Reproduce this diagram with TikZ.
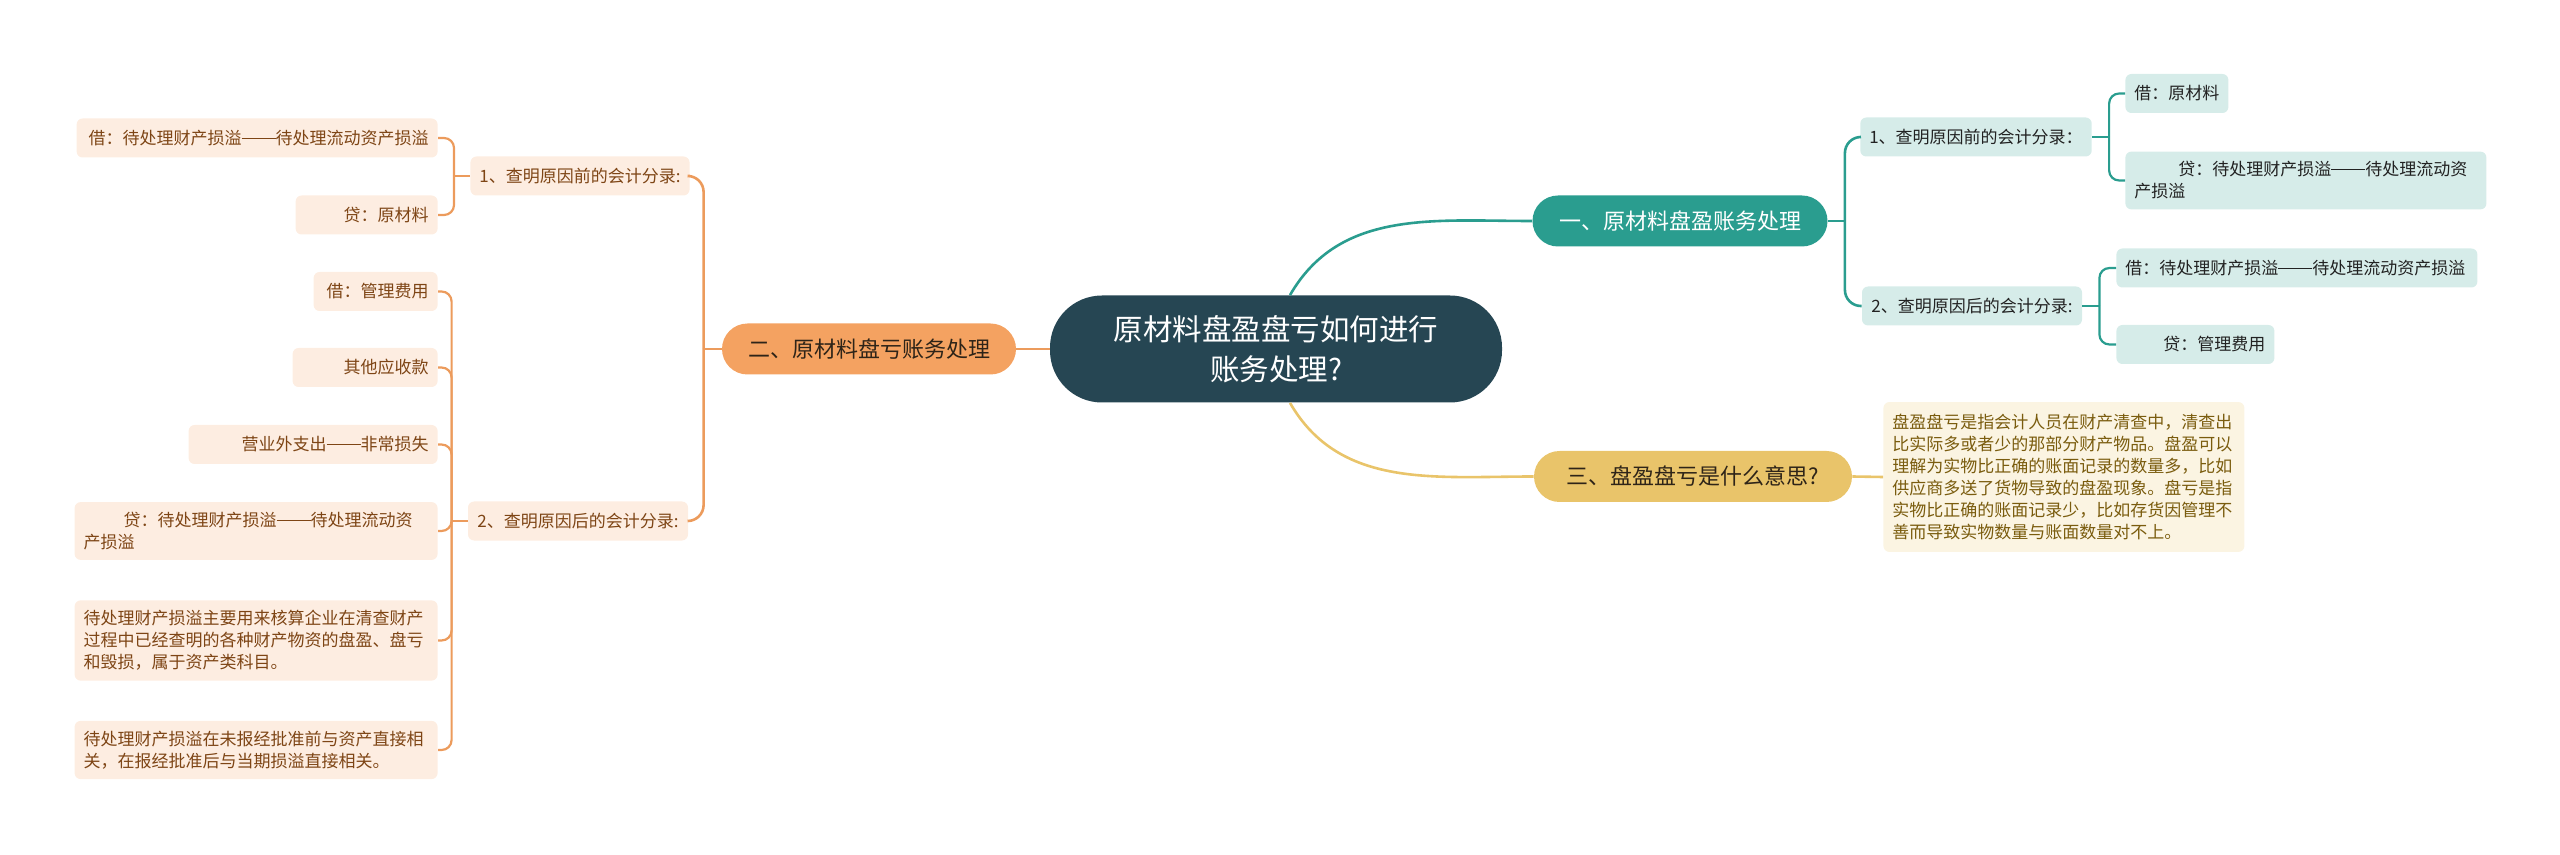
\documentclass[tikz,border=0pt]{standalone}
\usepackage{fontspec}
\usepackage{tikz}
\usetikzlibrary{calc}
\newfontfamily\zhfont{Noto Sans CJK SC}
\definecolor{rootSlate}{HTML}{264653}
\definecolor{deepTeal}{HTML}{2A9D8F}
\definecolor{softOrange}{HTML}{F4A261}
\definecolor{lineOrange}{HTML}{EC9B5C}
\definecolor{sandYellow}{HTML}{E9C46A}
\definecolor{paleTeal}{HTML}{D6ECE9}
\definecolor{palePeach}{HTML}{FDEDE1}
\definecolor{paleSand}{HTML}{FBF4E2}
\definecolor{peachText}{HTML}{7E4515}
\definecolor{sandText}{HTML}{7A5C0E}
\definecolor{inkGrey}{HTML}{222222}
\definecolor{darkText}{HTML}{2E2418}
\newcommand{\dblDash}{\rule[0.33em]{2em}{0.07em}}

\begin{document}
\begin{tikzpicture}[x=0.5pt,y=-0.5pt,
    rootbox/.style={fill=rootSlate, text=white, rounded corners=26pt, minimum width=226pt,
        minimum height=53.5pt, align=center, font=\zhfont\fontsize{14.75pt}{20pt}\selectfont},
    mainbox/.style={rounded corners=12.75pt, minimum height=25.5pt,
        font=\zhfont\fontsize{11pt}{13pt}\selectfont},
    subbox/.style={rounded corners=3pt, minimum height=19.5pt, inner xsep=4.5pt, inner ysep=5pt,
        font=\zhfont\fontsize{8.5pt}{11pt}\selectfont},
    leafL/.style={subbox, fill=palePeach, text=peachText, anchor=east},
    leafR/.style={subbox, fill=paleTeal, text=inkGrey, anchor=west},
    tealLine/.style={draw=deepTeal, line width=1.3pt},
    orangeLine/.style={draw=lineOrange, line width=1.3pt},
    sandLine/.style={draw=sandYellow, line width=1.3pt},
    bracket/.style={line width=1.1pt, rounded corners=5pt}]
    \useasboundingbox (0,0) rectangle (2560,855);

    % centre and main branches
    \node[rootbox] (root) at (1276,349) {原材料盘盈盘亏如何进行\\账务处理?};
    \node[mainbox, fill=deepTeal, text=white, minimum width=147.5pt] (one) at (1680,221) {一、原材料盘盈账务处理};
    \node[mainbox, fill=softOrange, text=darkText, minimum width=147pt] (two) at (869,349) {二、原材料盘亏账务处理};
    \node[mainbox, fill=sandYellow, text=darkText, minimum width=159pt] (three) at (1693,476.5) {三、盘盈盘亏是什么意思?};

    \draw[tealLine] ([xshift=7pt]root.north) to[out=60,in=180] (one.west);
    \draw[sandLine] ([xshift=7pt]root.south) to[out=-60,in=180] (three.west);
    \draw[orangeLine] (root.west) -- (two.east);

    % right: 一
    \node[subbox, fill=paleTeal, text=inkGrey, minimum width=115pt] (oneA) at (1976,137) {1、查明原因前的会计分录：};
    \node[subbox, fill=paleTeal, text=inkGrey, minimum width=110pt] (oneB) at (1972,306) {2、查明原因后的会计分录:};
    \draw[tealLine] (one.east) -- ++(17,0) coordinate (oneBar);
    \draw[tealLine, rounded corners=8pt] (oneBar) |- (oneA.west);
    \draw[tealLine, rounded corners=8pt] (oneBar) |- (oneB.west);

    \node[leafR, text width=42.5pt, align=left] (oneA1) at (2125,93.5) {借：原材料};
    \node[leafR, text width=171.5pt, align=left] (oneA2) at (2125,180.5) {\hspace*{22pt}贷：待处理财产损溢\dblDash 待处理流动资\\产损溢};
    \node[leafR, text width=171.5pt, align=left] (oneB1) at (2116,268) {借：待处理财产损溢\dblDash 待处理流动资产损溢};
    \node[leafR, text width=70pt, align=right] (oneB2) at (2116,344.5) {贷：管理费用};
    \draw[tealLine] (oneA.east) -- ++(17,0) coordinate (oneABar);
    \draw[tealLine, bracket] (oneABar) |- (oneA1.west);
    \draw[tealLine, bracket] (oneABar) |- (oneA2.west);
    \draw[tealLine] (oneB.east) -- ++(17,0) coordinate (oneBBar);
    \draw[tealLine, bracket] (oneBBar) |- (oneB1.west);
    \draw[tealLine, bracket] (oneBBar) |- (oneB2.west);

    % left: 二
    \node[subbox, fill=palePeach, text=peachText, minimum width=109.5pt] (twoA) at (580,176) {1、查明原因前的会计分录:};
    \node[subbox, fill=palePeach, text=peachText, minimum width=110pt] (twoB) at (578,521) {2、查明原因后的会计分录:};
    \draw[orangeLine] (two.west) -- ++(-18,0) coordinate (twoBar);
    \draw[orangeLine, rounded corners=8pt] (twoBar) |- (twoA.east);
    \draw[orangeLine, rounded corners=8pt] (twoBar) |- (twoB.east);

    \node[leafL, text width=171.5pt, align=right] (twoA1) at (438,138) {借：待处理财产损溢\dblDash 待处理流动资产损溢};
    \node[leafL, text width=62pt, align=right] (twoA2) at (438,215) {贷：原材料};
    \draw[orangeLine] (twoA.west) -- ++(-16,0) coordinate (twoABar);
    \draw[orangeLine, bracket] (twoABar) |- (twoA1.east);
    \draw[orangeLine, bracket] (twoABar) |- (twoA2.east);

    \node[leafL, text width=53pt, align=right] (twoB1) at (438,291.5) {借：管理费用};
    \node[leafL, text width=63.5pt, align=right] (twoB2) at (438,367.5) {其他应收款};
    \node[leafL, text width=115.5pt, align=right] (twoB3) at (438,444.5) {营业外支出\dblDash 非常损失};
    \node[leafL, text width=172.5pt, align=left] (twoB4) at (438,531) {\hspace*{20pt}贷：待处理财产损溢\dblDash 待处理流动资\\产损溢};
    \node[leafL, text width=172.5pt, align=left] (twoB5) at (438,640.5) {待处理财产损溢主要用来核算企业在清查财产\\过程中已经查明的各种财产物资的盘盈、盘亏\\和毁损，属于资产类科目。};
    \node[leafL, text width=172.5pt, align=left] (twoB6) at (438,750) {待处理财产损溢在未报经批准前与资产直接相\\关，在报经批准后与当期损溢直接相关。};
    \draw[orangeLine] (twoB.west) -- ++(-16,0) coordinate (twoBBar);
    \foreach \leaf in {twoB1,twoB2,twoB3,twoB4,twoB5,twoB6}
        \draw[orangeLine, bracket] (twoBBar) |- (\leaf.east);

    % right: 三
    \node[subbox, fill=paleSand, text=sandText, anchor=west, inner ysep=6pt, text width=171.5pt, align=left] (note) at (1883,477)
        {盘盈盘亏是指会计人员在财产清查中，清查出\\比实际多或者少的那部分财产物品。盘盈可以\\理解为实物比正确的账面记录的数量多，比如\\供应商多送了货物导致的盘盈现象。盘亏是指\\实物比正确的账面记录少，比如存货因管理不\\善而导致实物数量与账面数量对不上。};
    \draw[sandLine] (three.east) -- (note.west);
\end{tikzpicture}
\end{document}
